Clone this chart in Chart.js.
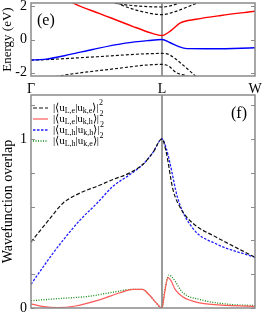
<!DOCTYPE html>
<html>
<head>
<meta charset="utf-8">
<script src="https://cdn.jsdelivr.net/npm/chart.js@4.4.0/dist/chart.umd.min.js"></script>
<style>
  html, body { margin: 0; padding: 0; background: #fff; }
  #wrap { position: relative; width: 266px; height: 325px; }
  canvas { position: absolute; left: 0; }
  #bands { top: 0; }
  #overlap { top: 90px; }
</style>
</head>
<body>
<div id="wrap">
  <canvas id="bands" width="266" height="95"></canvas>
  <canvas id="overlap" width="266" height="235"></canvas>
</div>
<script>
// k-path: Γ = 0, L = 1, W = 1.71
const kTicks = [0, 1, 1.71];
const kLabels = ['Γ', 'L', 'W'];
const energyTicks = [-2, 0, 2];
const overlapTicks = [0, 1];
const overlapMarks = [0, 0.2, 0.4, 0.6, 0.8, 1.0, 1.2];

// (e) band structure
const redK  = [0.22, 0.32, 0.53, 0.78, 0.92, 0.96, 1.0, 1.07, 1.14, 1.26, 1.45, 1.71];
const redE  = [2.7, 2.2, 1.55, 0.78, 0.38, 0.29, 0.24, 0.55, 1.0, 1.22, 1.45, 1.7];
const blueK = [0, 0.1, 0.3, 0.47, 0.72, 0.9, 1.0, 1.06, 1.12, 1.19, 1.4, 1.71];
const blueE = [-1.24, -1.2, -0.9, -0.6, -0.22, -0.06, 0, -0.18, -0.4, -0.55, -0.56, -0.5];
const c1K = [0.6, 0.66, 0.8, 1.0, 1.07, 1.13, 1.16];
const c1E = [2.28, 2.16, 2.03, 1.96, 2.04, 2.2, 2.3];
const c2K = [0.62, 0.7, 0.82, 1.0, 1.1, 1.2, 1.3];
const c2E = [2.35, 2.05, 1.74, 1.5, 1.68, 1.98, 2.3];
const d1K = [0, 0.1, 0.5, 1.0, 1.05, 1.1, 1.14, 1.25, 1.3];
const d1E = [-1.24, -1.22, -1.04, -0.84, -0.9, -1.15, -1.4, -2.16, -2.5];
const d2K = [0.15, 0.26, 0.6, 1.0, 1.05, 1.11, 1.19, 1.25];
const d2E = [-2.3, -2.14, -1.8, -1.5, -1.6, -2.0, -2.2, -2.5];

// (f) wavefunction overlaps
const eeK = [0, 0.145, 0.244, 0.374, 0.504, 0.626, 0.756, 0.855, 0.931, 1.0, 1.03, 1.084, 1.15, 1.237, 1.412, 1.71];
const eeV = [0.39, 0.53, 0.62, 0.68, 0.72, 0.76, 0.80, 0.85, 0.92, 1.0, 0.93, 0.70, 0.58, 0.50, 0.42, 0.30];
const hhK = [0, 0.145, 0.244, 0.374, 0.504, 0.626, 0.756, 0.855, 0.931, 1.0, 1.03, 1.06, 1.12, 1.237, 1.412, 1.71];
const hhV = [0.14, 0.30, 0.40, 0.52, 0.62, 0.72, 0.79, 0.85, 0.92, 1.0, 0.95, 0.86, 0.65, 0.47, 0.38, 0.30];
const ehK = [0, 0.1, 0.2, 0.34, 0.53, 0.68, 0.78, 0.85, 0.9, 0.95, 1.0, 1.02, 1.046, 1.07, 1.1, 1.16, 1.29, 1.5, 1.71];
const ehV = [0.025, 0.008, 0.003, 0.012, 0.05, 0.09, 0.11, 0.11, 0.08, 0.035, 0.0, 0.09, 0.18, 0.16, 0.11, 0.065, 0.03, 0.015, 0.01];
const heK = [0, 0.2, 0.45, 0.6, 0.78, 0.85, 0.9, 0.95, 1.0, 1.02, 1.053, 1.08, 1.16, 1.29, 1.54, 1.71];
const heV = [0.043, 0.055, 0.07, 0.09, 0.11, 0.11, 0.08, 0.035, 0.0, 0.10, 0.195, 0.18, 0.09, 0.05, 0.02, 0.015];

const FONT = "'Liberation Serif', 'Times New Roman', serif";

const pts = (xs, ys) => xs.map((x, i) => ({ x: x, y: ys[i] }));

function line(label, xs, ys, color, dash, width) {
    return {
        label: label,
        data: pts(xs, ys),
        borderColor: color,
        borderWidth: width || 1.3,
        borderDash: dash || [],
        pointRadius: 0,
        cubicInterpolationMode: 'monotone',
        fill: false
    };
}

// keep the plot box where the figure has it
function fixWidth(w) {
    return s => { s.width = w; s.paddingTop = 0; s.paddingBottom = 0; };
}
function fixHeight(h) {
    return s => { s.height = h; s.paddingLeft = 0; s.paddingRight = 0; };
}

// frame, L line, inward ticks, panel label
const framePlugin = {
    id: 'frame',
    beforeDatasetsDraw(chart) {
        const { ctx, chartArea: a, scales: { x } } = chart;
        const px = x.getPixelForValue(1);
        ctx.save();
        ctx.strokeStyle = '#9a9a9a';
        ctx.lineWidth = 2;
        ctx.beginPath();
        ctx.moveTo(px, a.top);
        ctx.lineTo(px, a.bottom);
        ctx.stroke();
        ctx.restore();
    },
    afterDatasetsDraw(chart, args, opts) {
        const { ctx, chartArea: a, scales: { y } } = chart;
        ctx.save();
        ctx.strokeStyle = '#8a8a8a';
        ctx.lineWidth = 1.5;
        ctx.strokeRect(a.left, a.top, a.right - a.left, a.bottom - a.top);
        ctx.lineWidth = 1;
        ctx.beginPath();
        opts.marks.forEach(v => {
            const py = Math.round(y.getPixelForValue(v)) + 0.5;
            ctx.moveTo(a.left, py); ctx.lineTo(a.left + 4, py);
            ctx.moveTo(a.right, py); ctx.lineTo(a.right - 4, py);
        });
        ctx.stroke();
        ctx.fillStyle = '#000';
        ctx.font = '16px ' + FONT;
        ctx.textBaseline = 'middle';
        ctx.fillText(opts.label, opts.lx, opts.ly);
        ctx.restore();
    }
};

// legend with sub/superscripts
function drawOverlap(ctx, x, y, a, b) {
    const big = '11px ' + FONT, small = '8px ' + FONT;
    const parts = [
        ['|\u27E8u', big, 0], ['L,' + a, small, 3], ['|u', big, 0],
        ['k,' + b, small, 3], ['\u27E9|', big, 0]
    ];
    parts.forEach(p => {
        ctx.font = p[1];
        ctx.fillText(p[0], x, y + p[2]);
        x += ctx.measureText(p[0]).width;
    });
    ctx.font = small;
    ctx.fillText('2', x + 0.5, y - 5);
}

const legendPlugin = {
    id: 'overlapLegend',
    afterDraw(chart) {
        const { ctx, chartArea: a } = chart;
        const subs = [['e', 'e'], ['e', 'h'], ['h', 'h'], ['h', 'e']];
        ctx.save();
        ctx.textBaseline = 'middle';
        ctx.fillStyle = '#000';
        chart.data.datasets.forEach((ds, i) => {
            const yy = a.top + 13 + i * 11;
            ctx.strokeStyle = ds.borderColor;
            ctx.lineWidth = ds.borderWidth;
            ctx.setLineDash(ds.borderDash);
            ctx.beginPath();
            ctx.moveTo(a.left + 2, yy);
            ctx.lineTo(a.left + 17, yy);
            ctx.stroke();
            ctx.setLineDash([]);
            drawOverlap(ctx, a.left + 22, yy, subs[i][0], subs[i][1]);
        });
        ctx.restore();
    }
};

const tickFont = { family: FONT, size: 14 };

new Chart(document.getElementById('bands'), {
    type: 'line',
    data: {
        datasets: [
            line('c', redK, redE, '#ff0000', [], 1.4),
            line('v', blueK, blueE, '#0000ff', [], 1.4),
            line('c1', c1K, c1E, '#111', [3, 2], 1.2),
            line('c2', c2K, c2E, '#111', [3, 2], 1.2),
            line('d1', d1K, d1E, '#111', [3, 2], 1.2),
            line('d2', d2K, d2E, '#111', [3, 2], 1.2)
        ]
    },
    options: {
        responsive: false,
        animation: false,
        layout: { padding: { top: 3, right: 11, left: 0, bottom: 0 } },
        plugins: {
            legend: { display: false },
            tooltip: { enabled: false },
            frame: { marks: energyTicks, label: '(e)', lx: 37, ly: 21 }
        },
        scales: {
            x: {
                type: 'linear', min: 0, max: 1.71,
                afterFit: fixHeight(19),
                afterBuildTicks: s => { s.ticks = kTicks.map(v => ({ value: v })); },
                ticks: { autoSkip: false, maxRotation: 0, padding: 5, color: '#000', font: tickFont,
                         callback: (v, i) => kLabels[i] },
                grid: { display: false, drawTicks: false },
                border: { display: false }
            },
            y: {
                min: -2.2, max: 2.2,
                afterFit: fixWidth(31),
                afterBuildTicks: s => { s.ticks = energyTicks.map(v => ({ value: v })); },
                ticks: { autoSkip: false, padding: 4, color: '#000', font: tickFont },
                grid: { display: false, drawTicks: false },
                border: { display: false },
                title: { display: true, text: 'Energy (eV)', color: '#000', padding: 0,
                         font: { family: FONT, size: 13 } }
            }
        }
    },
    plugins: [framePlugin]
});

new Chart(document.getElementById('overlap'), {
    type: 'line',
    data: {
        datasets: [
            line('ee', eeK, eeV, '#111', [4, 2], 1.2),
            line('eh', ehK, ehV, '#ff5a5a', [], 1.2),
            line('hh', hhK, hhV, '#1e1eff', [2.5, 1.5], 1.3),
            line('he', heK, heV, '#108a10', [1, 1.5], 1.3)
        ]
    },
    options: {
        responsive: false,
        animation: false,
        layout: { padding: { top: 5, right: 11, left: 0, bottom: 17 } },
        plugins: {
            legend: { display: false },
            tooltip: { enabled: false },
            frame: { marks: overlapMarks, label: '(f)', lx: 231, ly: 24 }
        },
        scales: {
            x: { type: 'linear', min: 0, max: 1.71, display: false },
            y: {
                min: 0, max: 1.26,
                afterFit: fixWidth(31),
                afterBuildTicks: s => { s.ticks = overlapTicks.map(v => ({ value: v })); },
                ticks: { autoSkip: false, padding: 4, color: '#000', font: tickFont },
                grid: { display: false, drawTicks: false },
                border: { display: false },
                title: { display: true, text: 'Wavefunction overlap', color: '#000', padding: 0,
                         font: { family: FONT, size: 14 } }
            }
        }
    },
    plugins: [framePlugin, legendPlugin]
});
</script>
</body>
</html>
